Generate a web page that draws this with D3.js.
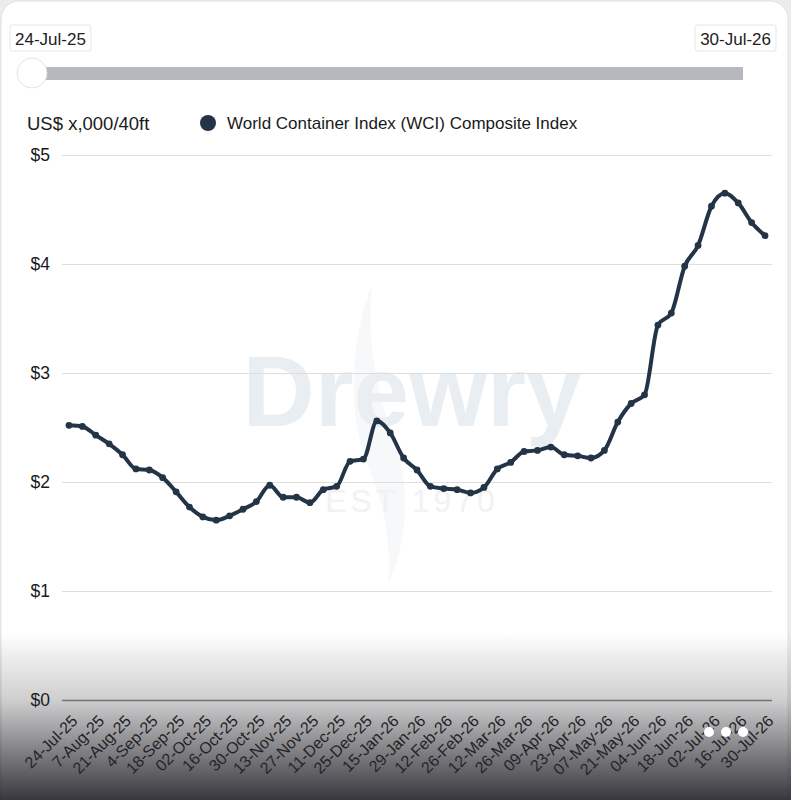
<!DOCTYPE html>
<html>
<head>
<meta charset="utf-8">
<script src="https://cdn.jsdelivr.net/npm/d3@7"></script>
<style>
  body { margin: 0; background: #ececec; font-family: "Liberation Sans", Arial, sans-serif; }
</style>
</head>
<body>
<div id="chart"></div>
<script>
// WCI weekly composite, US$ thousand per 40ft
const dates = [
  "24-Jul-25", "31-Jul-25", "7-Aug-25", "14-Aug-25", "21-Aug-25", "28-Aug-25",
  "4-Sep-25", "11-Sep-25", "18-Sep-25", "25-Sep-25", "02-Oct-25", "09-Oct-25",
  "16-Oct-25", "23-Oct-25", "30-Oct-25", "06-Nov-25", "13-Nov-25", "20-Nov-25",
  "27-Nov-25", "04-Dec-25", "11-Dec-25", "18-Dec-25", "25-Dec-25", "08-Jan-26",
  "15-Jan-26", "22-Jan-26", "29-Jan-26", "05-Feb-26", "12-Feb-26", "19-Feb-26",
  "26-Feb-26", "05-Mar-26", "12-Mar-26", "19-Mar-26", "26-Mar-26", "02-Apr-26",
  "09-Apr-26", "16-Apr-26", "23-Apr-26", "30-Apr-26", "07-May-26", "14-May-26",
  "21-May-26", "28-May-26", "04-Jun-26", "11-Jun-26", "18-Jun-26", "25-Jun-26",
  "02-Jul-26", "09-Jul-26", "16-Jul-26", "23-Jul-26", "30-Jul-26"
];
const wci = [
  2.52, 2.51, 2.43, 2.35, 2.25, 2.12,
  2.11, 2.04, 1.91, 1.77, 1.68, 1.65,
  1.69, 1.75, 1.82, 1.97, 1.86, 1.86,
  1.81, 1.93, 1.96, 2.19, 2.21, 2.56,
  2.45, 2.22, 2.11, 1.96, 1.94, 1.93,
  1.90, 1.95, 2.12, 2.18, 2.28, 2.29,
  2.32, 2.25, 2.24, 2.22, 2.29, 2.55,
  2.72, 2.80, 3.44, 3.55, 3.98, 4.17,
  4.53, 4.65, 4.56, 4.38, 4.26
];
const yTicks = [0, 1, 2, 3, 4, 5];
const rangeStart = "24-Jul-25";
const rangeEnd = "30-Jul-26";
const unitLabel = "US$ x,000/40ft";
const seriesName = "World Container Index (WCI) Composite Index";

const width = 791, height = 800;
const lineColor = "#243447";
const font = "'Liberation Sans', Arial, sans-serif";

const svg = d3.select("#chart").append("svg")
    .attr("width", width)
    .attr("height", height)
    .style("display", "block");

// card
svg.append("rect")
    .attr("x", 1).attr("y", 1)
    .attr("width", width - 4).attr("height", height + 20)
    .attr("rx", 18)
    .attr("fill", "#fff")
    .attr("stroke", "#e2e2e2");

// range boxes at the top
function dateBox(x, label, anchor) {
    const g = svg.append("g");
    const t = g.append("text")
        .attr("x", x).attr("y", 45)
        .attr("text-anchor", anchor)
        .attr("font-size", 17)
        .attr("fill", "#222")
        .text(label);
    const b = t.node().getBBox();
    g.insert("rect", "text")
        .attr("x", b.x - 5).attr("y", 25)
        .attr("width", b.width + 10).attr("height", 26)
        .attr("rx", 2)
        .attr("fill", "#fff")
        .attr("stroke", "#e6e6e6");
}
dateBox(15, rangeStart, "start");
dateBox(771, rangeEnd, "end");

// slider
svg.append("rect")
    .attr("x", 32).attr("y", 67)
    .attr("width", 711).attr("height", 13)
    .attr("fill", "#b5b9bd");
svg.append("circle")
    .attr("cx", 32).attr("cy", 73).attr("r", 15)
    .attr("fill", "#fff")
    .attr("stroke", "#e4e4e4");

// header / legend
svg.append("text")
    .attr("x", 27).attr("y", 130)
    .attr("font-size", 18.5)
    .attr("fill", "#1a1a1a")
    .text(unitLabel);
svg.append("circle")
    .attr("cx", 208).attr("cy", 123).attr("r", 8)
    .attr("fill", lineColor);
svg.append("text")
    .attr("x", 227).attr("y", 129)
    .attr("font-size", 17)
    .attr("fill", "#1a1a1a")
    .text(seriesName);

// scales
const x = d3.scalePoint().domain(dates).range([69, 765]);
const y = d3.scaleLinear().domain([0, 5]).range([700, 155]);

// watermark
const wm = svg.append("g").attr("pointer-events", "none");
wm.append("path")
    .attr("d", "M372,285 C352,335 346,410 366,460 C380,495 392,530 388,585 C412,530 408,480 394,440 C378,395 366,340 372,285 Z")
    .attr("fill", "#f7f8f9");
wm.append("text")
    .attr("x", 412).attr("y", 426)
    .attr("text-anchor", "middle")
    .attr("font-size", 100)
    .attr("font-weight", "bold")
    .attr("fill", "#e9eef2")
    .text("Drewry");
wm.append("text")
    .attr("x", 412).attr("y", 512)
    .attr("text-anchor", "middle")
    .attr("font-size", 32)
    .attr("letter-spacing", 4)
    .attr("fill", "#f0f2f5")
    .text("EST 1970");

// y axis with gridlines
const yAxis = svg.append("g")
    .attr("transform", "translate(62,0)")
    .call(d3.axisLeft(y).tickValues(yTicks).tickSize(-710).tickPadding(12).tickFormat(d => "$" + d));
yAxis.select(".domain").remove();
yAxis.selectAll(".tick line")
    .attr("stroke", d => d === 0 ? "#8a8a8a" : "#dedede")
    .attr("stroke-width", d => d === 0 ? 1.5 : 1);
yAxis.selectAll(".tick text")
    .attr("font-size", 17.5)
    .attr("font-family", font)
    .attr("fill", "#1a1a1a");

// x axis, every other week labelled
const xAxis = svg.append("g")
    .attr("transform", "translate(0,700)")
    .call(d3.axisBottom(x).tickValues(dates.filter((d, i) => i % 2 === 0)).tickSize(0));
xAxis.select(".domain").remove();
xAxis.selectAll(".tick text")
    .attr("font-size", 16)
    .attr("font-family", font)
    .attr("fill", "#1a1a1a")
    .attr("text-anchor", "end")
    .attr("dy", 0)
    .attr("y", 0)
    .attr("transform", "translate(9,22) rotate(-45)");

// series
const data = dates.map((d, i) => ({ date: d, value: wci[i] }));
const line = d3.line()
    .x(d => x(d.date))
    .y(d => y(d.value))
    .curve(d3.curveMonotoneX);

svg.append("path")
    .datum(data)
    .attr("fill", "none")
    .attr("stroke", lineColor)
    .attr("stroke-width", 4)
    .attr("stroke-linejoin", "round")
    .attr("d", line);

svg.append("g").selectAll("circle")
    .data(data)
    .join("circle")
    .attr("cx", d => x(d.date))
    .attr("cy", d => y(d.value))
    .attr("r", 3.4)
    .attr("fill", lineColor);

// dark fade along the bottom of the screenshot
const defs = svg.append("defs");
const grad = defs.append("linearGradient")
    .attr("id", "fade")
    .attr("x1", 0).attr("x2", 0).attr("y1", 0).attr("y2", 1);
grad.append("stop").attr("offset", "0%").attr("stop-color", "#26262c").attr("stop-opacity", 0);
grad.append("stop").attr("offset", "40%").attr("stop-color", "#26262c").attr("stop-opacity", 0.22);
grad.append("stop").attr("offset", "100%").attr("stop-color", "#26262c").attr("stop-opacity", 0.92);
svg.append("rect")
    .attr("x", 0).attr("y", 632)
    .attr("width", width).attr("height", 168)
    .attr("fill", "url(#fade)");

// menu dots
svg.append("g").selectAll("circle")
    .data([709, 726, 743])
    .join("circle")
    .attr("cx", d => d).attr("cy", 732).attr("r", 5)
    .attr("fill", "#fff");
</script>
</body>
</html>
